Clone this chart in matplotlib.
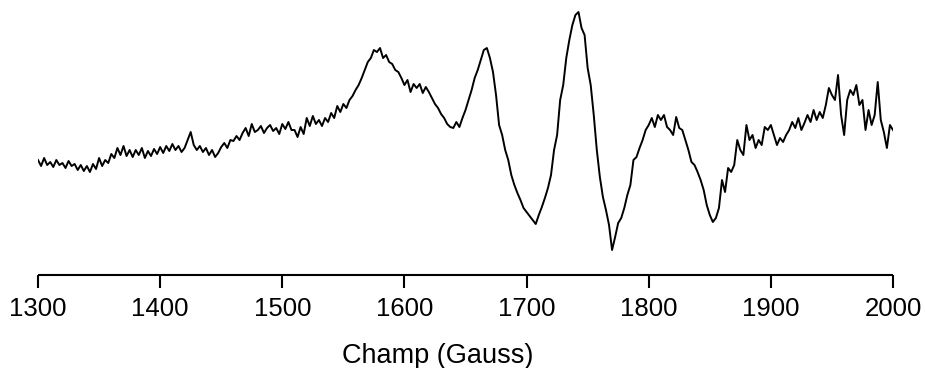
import numpy as np
import matplotlib.pyplot as plt

# EPR spectrum, intensity (arb. units) every 2.5 G from 1300 to 2000 G
field = np.linspace(1300, 2000, 281)
intensity = [
    5, -1, 7, 0,   3, -2, 5, 0,   2, -3, 4, -1,   1, -5, 0, -6,   -1, -7, 1, -4,     # 1300-1350
    7, -1, 5, 2,   11, 7, 17, 10,   19, 9, 15, 8,   15, 10, 17, 7,   14, 9, 16, 11,  # 1350-1400
    18, 12, 19, 14,   21, 15, 19, 13,   17, 25, 33, 20,   15, 19, 13, 17,   10, 15, 8, 12,  # 1400-1450
    18, 22, 17, 25,   24, 29, 25, 32,   37, 29, 41, 33,   35, 39, 32, 37,   40, 34, 37, 31,  # 1450-1500
    41, 36, 43, 35,   35, 28, 38, 31,   47, 39, 49, 41,   45, 39, 47, 43,   52, 47, 59, 53,  # 1500-1550
    61, 57, 65, 69,   75, 80, 87, 95,   103, 107, 115, 113,   117, 107, 110, 103,   101, 95, 93, 87,  # 1550-1600
    80, 85, 73, 81,   77, 81, 72, 78,   73, 67, 61, 57,   51, 47, 41, 38,   37, 43, 38, 47,  # 1600-1650
    55, 65, 75, 87,   95, 105, 115, 117,   107, 93, 70, 40,   30, 15, 5, -10,   -20, -28, -35, -43,  # 1650-1700
    -47, -51, -55, -59,   -50, -42, -33, -23,   -10, 15, 30, 65,   80, 107, 125, 140,   150, 153, 137, 130,  # 1700-1750
    97, 80, 50, 15,   -12, -32, -45, -60,   -85, -72, -58, -53,   -43, -30, -20, 5,   8, 17, 25, 35,  # 1750-1800
    40, 47, 38, 50,   45, 50, 38, 35,   30, 48, 37, 35,   25, 15, 3, 0,   -7, -15, -25, -40,  # 1800-1850
    -50, -57, -53, -43,   -15, -27, -3, -7,   0, 25, 15, 10,   40, 25, 30, 17,   25, 20, 38, 35,  # 1850-1900
    40, 30, 20, 27,   23, 30, 35, 43,   37, 47, 35, 42,   50, 43, 55, 45,   53, 47, 60, 77,  # 1900-1950
    70, 65, 90, 50,   30, 65, 75, 70,   80, 60, 65, 35,   55, 40, 50, 83,   45, 33, 17, 40,  # 1950-2000
    35,
]
xticks = [1300, 1400, 1500, 1600, 1700, 1800, 1900, 2000]

plt.rcParams['font.family'] = ['Liberation Sans', 'DejaVu Sans']

fig = plt.figure(figsize=(9.25, 3.68), dpi=100)
ax = fig.add_axes([0.0411, 0.2527, 0.9243, 0.7337])
ax.plot(field, intensity, color='black', lw=1.4)
ax.set_xlim(1300, 2000)
ax.set_ylim(-110, 160)
for s in ['top', 'right', 'left']:
    ax.spines[s].set_visible(False)
ax.spines['bottom'].set_linewidth(1.5)
ax.spines['bottom'].set_capstyle('butt')
ax.set_yticks([])
ax.set_xticks(xticks)
ax.tick_params(axis='x', direction='out', length=9.5, width=1.5, pad=6, labelsize=18.5)
ax.set_xlabel('Champ (Gauss)', fontsize=19.5)
ax.xaxis.set_label_coords(0.467, -0.25)

fig.savefig('out.png', dpi=100)
